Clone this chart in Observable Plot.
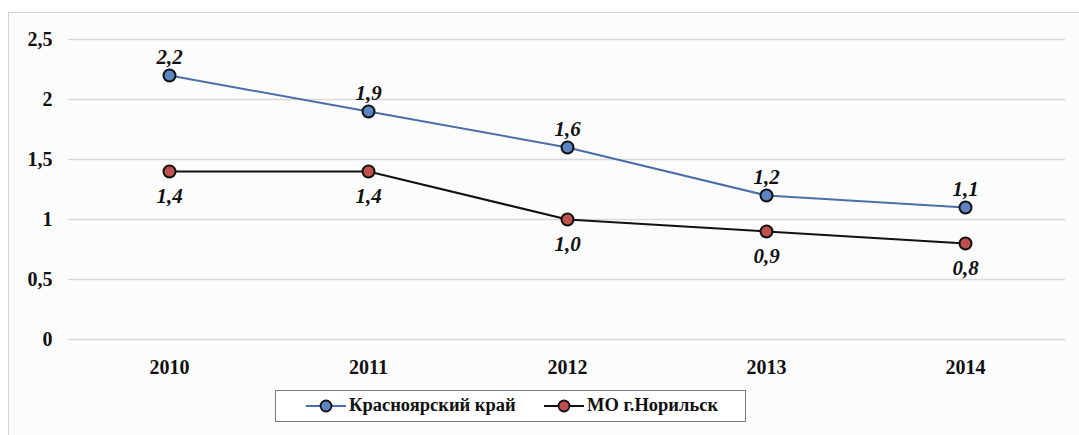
<!DOCTYPE html>
<html>
<head>
<meta charset="utf-8">
<script src="https://cdn.jsdelivr.net/npm/d3@7"></script>
<script src="https://cdn.jsdelivr.net/npm/@observablehq/plot@0.6"></script>
<style>
  html, body { margin: 0; padding: 0; width: 1079px; height: 435px; overflow: hidden; background: #fff; }
  #frame { position: absolute; left: 8px; top: 12px; width: 1100px; height: 500px; border: 1px solid #d4d4d4; background: #fcfcfc; }
  #chart { position: absolute; left: 0; top: 0; }
  #chart svg, #chart svg text { font-family: "Liberation Serif", "DejaVu Serif", serif !important; }
  #legend { position: absolute; left: 275px; top: 390px; width: 471px; height: 32px; border: 1.5px solid #7a7a7a; background: #fff; box-sizing: border-box;
    font-family: "Liberation Serif", "DejaVu Serif", serif; font-weight: bold; font-size: 18.5px; color: #111; }
  .item { position: absolute; top: 0; height: 29px; display: flex; align-items: center; }
  .item svg { margin-right: 3px; }
</style>
</head>
<body>
<div id="frame"></div>
<div id="chart"></div>
<div id="legend"></div>
<script>
const years = ["2010", "2011", "2012", "2013", "2014"];
const seriesNames = ["Красноярский край", "МО г.Норильск"];
const krasnoyarsk = [2.2, 1.9, 1.6, 1.2, 1.1];
const norilsk = [1.4, 1.4, 1.0, 0.9, 0.8];
const yTicks = [0, 0.5, 1, 1.5, 2, 2.5];

const lineColors = ["#4a6fa8", "#111111"];
const markerColors = ["#5b86c3", "#c0504d"];
const FONT = "'Liberation Serif', 'DejaVu Serif', serif";

const rows = [];
years.forEach((y, i) => rows.push({year: y, value: krasnoyarsk[i], series: seriesNames[0]}));
years.forEach((y, i) => rows.push({year: y, value: norilsk[i], series: seriesNames[1]}));

const fmt = v => v.toFixed(1).replace(".", ",");
const fmtTick = v => String(v).replace(".", ",");

const plot = Plot.plot({
  width: 1079,
  height: 385,
  marginLeft: 68,
  marginRight: 14,
  marginTop: 39,
  marginBottom: 46,
  style: { background: "transparent", color: "#111" },
  x: { type: "point", domain: years, padding: 0.5, label: null },
  y: { domain: [0, 2.5], ticks: yTicks, label: null },
  color: { domain: seriesNames, range: lineColors },
  marks: [
    Plot.ruleY(yTicks, { stroke: "#d9d9d9", strokeWidth: 1.3 }),
    Plot.axisX({ tickSize: 0, tickPadding: 20, fontSize: 20, fontWeight: "bold", fontFamily: FONT, fill: "#111", label: null }),
    Plot.axisY({ ticks: yTicks, tickFormat: fmtTick, tickSize: 0, tickPadding: 16, fontSize: 20, fontWeight: "bold", fontFamily: FONT, fill: "#111", label: null }),
    Plot.line(rows, { x: "year", y: "value", z: "series", stroke: "series", strokeWidth: 2 }),
    Plot.dot(rows, { x: "year", y: "value", r: 6, fill: d => d.series === seriesNames[0] ? markerColors[0] : markerColors[1], stroke: "#111", strokeWidth: 2 }),
    Plot.text(rows.filter(d => d.series === seriesNames[0]), { x: "year", y: "value", text: d => fmt(d.value), dy: -18, fontStyle: "italic", fontWeight: "bold", fontSize: 21, fontFamily: FONT, fill: "#111" }),
    Plot.text(rows.filter(d => d.series === seriesNames[1]), { x: "year", y: "value", text: d => fmt(d.value), dy: 25, fontStyle: "italic", fontWeight: "bold", fontSize: 21, fontFamily: FONT, fill: "#111" })
  ]
});
document.getElementById("chart").appendChild(plot);

// legend
const legend = document.getElementById("legend");
const itemX = [30, 268];
seriesNames.forEach((name, i) => {
  const div = document.createElement("div");
  div.className = "item";
  div.style.left = itemX[i] + "px";
  div.innerHTML = `<svg width="40" height="14"><line x1="0" y1="7" x2="40" y2="7" stroke="${lineColors[i]}" stroke-width="2"/><circle cx="20" cy="7" r="5.5" fill="${markerColors[i]}" stroke="#111" stroke-width="1.8"/></svg><span>${name}</span>`;
  legend.appendChild(div);
});
</script>
</body>
</html>
